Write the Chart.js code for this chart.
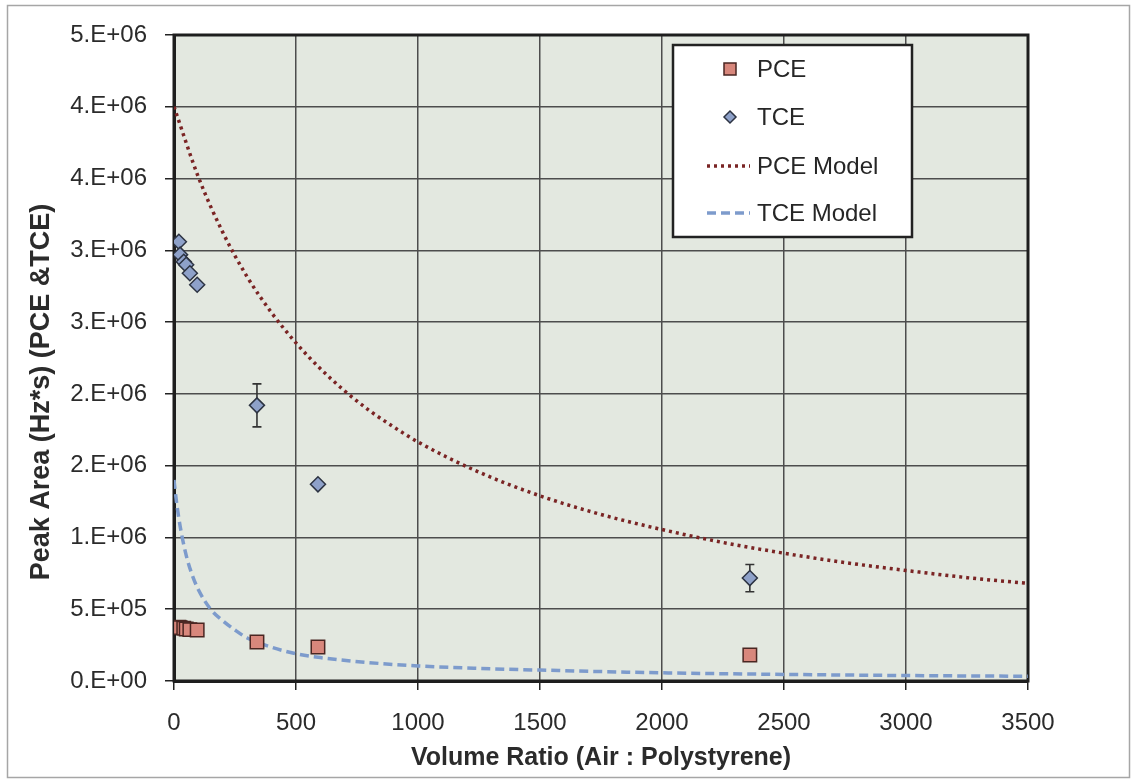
<!DOCTYPE html>
<html>
<head>
<meta charset="utf-8">
<script src="https://cdn.jsdelivr.net/npm/chart.js@4.4.1/dist/chart.umd.min.js"></script>
<style>
  html, body { margin: 0; padding: 0; background: #fff; }
  #wrap { position: relative; width: 1136px; height: 783px; }
</style>
</head>
<body>
<div id="wrap"><canvas id="grafico" width="1136" height="783"></canvas></div>
<script>
// measured points
const pceX = [20, 25, 40, 50, 65, 95, 340, 590, 2360];
const pceY = [375000, 372000, 368000, 362000, 358000, 355000, 272000, 237000, 181000];
const tceX = [20, 25, 40, 50, 65, 95, 340, 590, 2360];
const tceY = [3060000, 2970000, 2920000, 2900000, 2840000, 2760000, 1920000, 1370000, 717000];
const tceErr = [0, 0, 0, 0, 0, 0, 150000, 0, 95000];

// model curves
const pceModelX = [0, 100, 200, 300, 400, 500, 600, 700, 800, 900, 1000, 1250, 1500, 1750, 2000, 2250, 2500, 2750, 3000, 3250, 3500];
const pceModelY = [4000000, 3510000, 3125000, 2815000, 2565000, 2355000, 2175000, 2020000, 1885000, 1770000, 1665000, 1455000, 1290000, 1160000, 1055000, 965000, 890000, 825000, 770000, 720000, 680000];
const tceModelX = [0, 10, 25, 50, 75, 100, 150, 200, 250, 300, 400, 500, 600, 800, 1000, 1250, 1500, 2000, 2500, 3000, 3500];
const tceModelY = [1400000, 1250000, 1080000, 875000, 737000, 636000, 500000, 420000, 355000, 300000, 235000, 190000, 163000, 128000, 105000, 88000, 76000, 57000, 46000, 38000, 33000];

const xTickLabels = ['0', '500', '1000', '1500', '2000', '2500', '3000', '3500'];
const yTickLabels = ['0.E+00', '5.E+05', '1.E+06', '2.E+06', '2.E+06', '3.E+06', '3.E+06', '4.E+06', '4.E+06', '5.E+06'];
const tituloY = 'Peak Area (Hz*s) (PCE &TCE)';

const pontos = (xs, ys) => xs.map((x, i) => ({ x: x, y: ys[i] }));

const corPCE = '#d8877c';
const bordaPCE = '#4a2622';
const corTCE = '#8ea1c9';
const bordaTCE = '#2c3342';
const corModeloPCE = '#7a2424';
const corModeloTCE = '#7d9bcc';
const fonte = 'Arial, "Liberation Sans", sans-serif';

const moldura = {
  id: 'moldura',
  beforeDraw(chart) {
    const { ctx, chartArea: a } = chart;
    ctx.save();
    ctx.fillStyle = '#fff';
    ctx.fillRect(0, 0, chart.width, chart.height);
    ctx.strokeStyle = '#a6a6a6';
    ctx.lineWidth = 1.5;
    ctx.strokeRect(7.5, 5.5, 1122, 772);
    ctx.fillStyle = '#e3e8e0';
    ctx.fillRect(a.left, a.top, a.right - a.left, a.bottom - a.top);
    ctx.restore();
  },
  beforeDatasetsDraw(chart) {
    const { ctx, chartArea: a, scales } = chart;
    ctx.save();
    ctx.strokeStyle = '#1e1e1e';
    ctx.lineWidth = 3;
    ctx.strokeRect(a.left, a.top, a.right - a.left, a.bottom - a.top);
    // barras de erro do TCE
    ctx.strokeStyle = '#333';
    ctx.lineWidth = 1.6;
    tceX.forEach((x, i) => {
      if (!tceErr[i]) return;
      const px = scales.x.getPixelForValue(x);
      const y1 = scales.y.getPixelForValue(tceY[i] + tceErr[i]);
      const y2 = scales.y.getPixelForValue(tceY[i] - tceErr[i]);
      ctx.beginPath();
      ctx.moveTo(px, y1); ctx.lineTo(px, y2);
      ctx.moveTo(px - 4.5, y1); ctx.lineTo(px + 4.5, y1);
      ctx.moveTo(px - 4.5, y2); ctx.lineTo(px + 4.5, y2);
      ctx.stroke();
    });
    ctx.restore();
  },
  afterDraw(chart) {
    const ctx = chart.ctx;
    const ds = chart.data.datasets;
    ctx.save();
    // titulo do eixo y
    ctx.save();
    ctx.translate(42, 392);
    ctx.rotate(-Math.PI / 2);
    ctx.fillStyle = '#2b2b2b';
    ctx.font = 'bold 27px ' + fonte;
    ctx.textAlign = 'center';
    ctx.textBaseline = 'middle';
    ctx.fillText(tituloY, 0, 0);
    ctx.restore();
    // legenda
    ctx.fillStyle = '#fff';
    ctx.fillRect(673, 45, 239, 192);
    ctx.strokeStyle = '#222';
    ctx.lineWidth = 2.5;
    ctx.strokeRect(673, 45, 239, 192);
    const linhas = [69, 117, 166, 213];
    ctx.fillStyle = corPCE; ctx.strokeStyle = bordaPCE; ctx.lineWidth = 1.5;
    ctx.fillRect(724, linhas[0] - 6, 12, 12);
    ctx.strokeRect(724, linhas[0] - 6, 12, 12);
    ctx.fillStyle = corTCE; ctx.strokeStyle = bordaTCE;
    ctx.beginPath();
    ctx.moveTo(730, linhas[1] - 6); ctx.lineTo(736, linhas[1]);
    ctx.lineTo(730, linhas[1] + 6); ctx.lineTo(724, linhas[1]);
    ctx.closePath(); ctx.fill(); ctx.stroke();
    ctx.lineWidth = 3.5;
    ctx.strokeStyle = corModeloPCE; ctx.setLineDash([3, 4]);
    ctx.beginPath(); ctx.moveTo(707, linhas[2]); ctx.lineTo(750, linhas[2]); ctx.stroke();
    ctx.strokeStyle = corModeloTCE; ctx.setLineDash([9, 5]);
    ctx.beginPath(); ctx.moveTo(707, linhas[3]); ctx.lineTo(750, linhas[3]); ctx.stroke();
    ctx.setLineDash([]);
    ctx.fillStyle = '#262626';
    ctx.font = '24px ' + fonte;
    ctx.textBaseline = 'middle';
    ctx.textAlign = 'left';
    ds.forEach((d, i) => ctx.fillText(d.label, 757, linhas[i] + 1));
    ctx.restore();
  }
};

const ctx = document.getElementById('grafico').getContext('2d');
const grafico = new Chart(ctx, {
  type: 'scatter',
  data: {
    datasets: [
      {
        label: 'PCE',
        data: pontos(pceX, pceY),
        pointStyle: 'rect',
        pointRadius: 9.5,
        backgroundColor: corPCE,
        borderColor: bordaPCE,
        borderWidth: 1.5
      },
      {
        label: 'TCE',
        data: pontos(tceX, tceY),
        pointStyle: 'rectRot',
        pointRadius: 7.5,
        backgroundColor: corTCE,
        borderColor: bordaTCE,
        borderWidth: 1.5
      },
      {
        label: 'PCE Model',
        type: 'line',
        data: pontos(pceModelX, pceModelY),
        showLine: true,
        pointRadius: 0,
        borderColor: corModeloPCE,
        borderWidth: 3.5,
        borderDash: [3, 4],
        cubicInterpolationMode: 'monotone',
        fill: false
      },
      {
        label: 'TCE Model',
        type: 'line',
        data: pontos(tceModelX, tceModelY),
        showLine: true,
        pointRadius: 0,
        borderColor: corModeloTCE,
        borderWidth: 3.5,
        borderDash: [9, 5],
        cubicInterpolationMode: 'monotone',
        fill: false
      }
    ]
  },
  options: {
    responsive: false,
    animation: false,
    layout: { padding: { top: 35, right: 108, left: 0, bottom: 0 } },
    plugins: {
      legend: { display: false },
      tooltip: { enabled: false }
    },
    scales: {
      x: {
        type: 'linear',
        min: 0,
        max: 3500,
        afterFit: (s) => { s.height = 102; },
        ticks: {
          stepSize: 500,
          color: '#2b2b2b',
          padding: 19,
          font: { family: fonte, size: 24 },
          callback: (v, i) => xTickLabels[i]
        },
        grid: { color: '#4d4d4d', lineWidth: 1.5, tickLength: 9, tickColor: '#222' },
        border: { color: '#1e1e1e', width: 3 },
        title: {
          display: true,
          text: 'Volume Ratio (Air : Polystyrene)',
          color: '#2b2b2b',
          font: { family: fonte, size: 25, weight: 'bold' },
          padding: { top: 0, bottom: 10 }
        }
      },
      y: {
        min: 0,
        max: 4500000,
        afterFit: (s) => { s.width = 174; },
        ticks: {
          stepSize: 500000,
          color: '#2b2b2b',
          padding: 18,
          font: { family: fonte, size: 24 },
          callback: (v, i) => yTickLabels[i]
        },
        grid: { color: '#4d4d4d', lineWidth: 1.5, tickLength: 9, tickColor: '#222' },
        border: { color: '#1e1e1e', width: 3 },
        title: { display: false }
      }
    }
  },
  plugins: [moldura]
});
</script>
</body>
</html>
